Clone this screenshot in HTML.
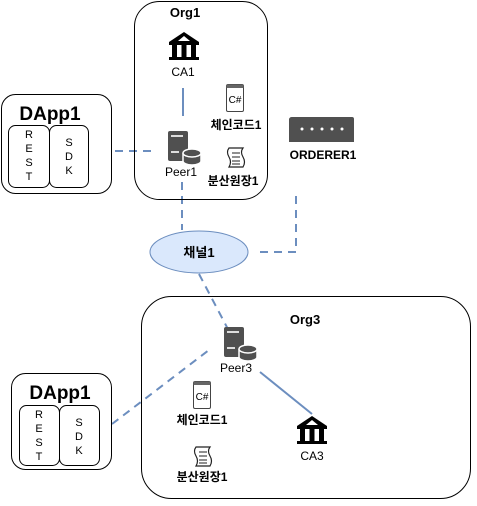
<!DOCTYPE html>
<html><head><meta charset="utf-8"><style>
html,body{margin:0;padding:0;background:#fff;}
svg text{font-family:"Liberation Sans","Noto Sans CJK KR",sans-serif;fill:#000;}
</style></head><body>
<svg width="477" height="501" viewBox="0 0 477 501" xmlns="http://www.w3.org/2000/svg">
<defs>
<g id="bank"><path d="M0 10 L15 0 L30 10 Z" fill="#000"/><rect x="0" y="10" width="30" height="3" fill="#000"/><rect x="3" y="13" width="5" height="12" fill="#000"/><rect x="12.5" y="13" width="5" height="12" fill="#000"/><rect x="22" y="13" width="5" height="12" fill="#000"/><rect x="0" y="25" width="30" height="3" fill="#000"/><path d="M9 9 L15 4 L21 9Z" fill="#fff"/></g>
<g id="peer"><rect x="0" y="0" width="20" height="30" rx="2" fill="#505050"/><rect x="3" y="4" width="12" height="2" fill="#ddd"/><rect x="3" y="20" width="8" height="2" fill="#ddd"/><path d="M15 22 v8 a9 4 0 0 0 18 0 v-8" fill="#505050" stroke="#fff" stroke-width="1.5"/><ellipse cx="24" cy="22" rx="9" ry="4" fill="#505050" stroke="#fff" stroke-width="1.5"/></g>
<g id="code"><rect x="0.5" y="0.5" width="17" height="27" rx="1.5" fill="#fff" stroke="#444"/><rect x="0.5" y="0.5" width="17" height="3.5" fill="#666"/><text x="9" y="19" font-size="10" text-anchor="middle" style="font-family:'Liberation Sans',sans-serif">C#</text></g>
<g id="ledger"><path d="M3 1 h14 q-3 4 0 9 q3 5 0 10 h-14 q3 -5 0 -10 q-3 -5 0 -9z" fill="#fff" stroke="#222" stroke-width="1.2"/><path d="M6 6h8M6 10h8M6 14h8M6 17h8" stroke="#222" stroke-width="1"/></g>
</defs>
<g stroke="#6c8ebf" stroke-width="2" fill="none">
<line x1="183" y1="88" x2="183" y2="116"/>
<line x1="260" y1="372" x2="312" y2="414"/>
<g stroke-dasharray="8,6">
<line x1="101" y1="151" x2="152" y2="151"/>
<line x1="182" y1="182" x2="182" y2="230"/>
<polyline points="296,196 296,252 254,252"/>
<line x1="199" y1="274" x2="230" y2="333"/>
<line x1="112" y1="424" x2="209" y2="350"/>
</g>
</g>
<rect x="134.5" y="1.5" width="133" height="198" rx="25" fill="none" stroke="#000"/>
<text x="185" y="17" font-size="13" font-weight="bold" text-anchor="middle">Org1</text>
<use href="#bank" x="169" y="32"/>
<text x="183" y="76" font-size="12" text-anchor="middle">CA1</text>
<use href="#code" x="226" y="84"/>
<text x="236" y="129" font-size="12" font-weight="bold" text-anchor="middle">체인코드1</text>
<use href="#peer" x="168" y="131"/>
<text x="181" y="176" font-size="12" text-anchor="middle">Peer1</text>
<use href="#ledger" x="226" y="147"/>
<text x="233" y="185" font-size="12" font-weight="bold" text-anchor="middle">분산원장1</text>
<rect x="1.5" y="94.5" width="110" height="99" rx="14" fill="#fff" stroke="#000"/>
<text x="50" y="120" font-size="19" font-weight="bold" text-anchor="middle">DApp1</text>
<rect x="8.5" y="125.5" width="41" height="62" rx="7" fill="#fff" stroke="#000"/>
<rect x="49.5" y="125.5" width="39" height="62" rx="7" fill="#fff" stroke="#000"/>
<g font-size="11" text-anchor="middle"><text x="29" y="138">R</text><text x="29" y="152">E</text><text x="29" y="166">S</text><text x="29" y="180">T</text>
<text x="69" y="146">S</text><text x="69" y="160">D</text><text x="69" y="174">K</text></g>
<path d="M292 117 h60 a2 2 0 0 1 2 2 v23 h-65 v-23 a3 3 0 0 1 3 -2z" fill="#505050"/>
<g fill="#fff"><circle cx="302" cy="129" r="1.5"/><circle cx="312" cy="129" r="1.5"/><circle cx="322" cy="129" r="1.5"/><circle cx="332" cy="129" r="1.5"/><circle cx="342" cy="129" r="1.5"/></g>
<text x="323" y="159" font-size="12" font-weight="bold" text-anchor="middle">ORDERER1</text>
<ellipse cx="199" cy="252" rx="49" ry="21" fill="#dae8fc" stroke="#6c8ebf"/>
<text x="199" y="257" font-size="13" font-weight="bold" text-anchor="middle">채널1</text>
<rect x="141.5" y="296.5" width="329" height="202" rx="30" fill="none" stroke="#000"/>
<text x="305" y="324" font-size="13" font-weight="bold" text-anchor="middle">Org3</text>
<use href="#peer" x="224" y="327"/>
<text x="236" y="372" font-size="12" text-anchor="middle">Peer3</text>
<use href="#code" x="193" y="381"/>
<text x="202" y="424" font-size="12" font-weight="bold" text-anchor="middle">체인코드1</text>
<use href="#ledger" x="193" y="446"/>
<text x="202" y="481" font-size="12" font-weight="bold" text-anchor="middle">분산원장1</text>
<use href="#bank" x="297" y="416"/>
<text x="312" y="460" font-size="12" text-anchor="middle">CA3</text>
<rect x="11.5" y="373.5" width="100" height="96" rx="14" fill="#fff" stroke="#000"/>
<text x="60" y="399" font-size="19" font-weight="bold" text-anchor="middle">DApp1</text>
<rect x="19.5" y="405.5" width="40" height="60" rx="7" fill="#fff" stroke="#000"/>
<rect x="59.5" y="405.5" width="40" height="60" rx="7" fill="#fff" stroke="#000"/>
<g font-size="11" text-anchor="middle"><text x="39" y="418">R</text><text x="39" y="432">E</text><text x="39" y="446">S</text><text x="39" y="460">T</text>
<text x="79" y="426">S</text><text x="79" y="440">D</text><text x="79" y="454">K</text></g>
</svg>
</body></html>
